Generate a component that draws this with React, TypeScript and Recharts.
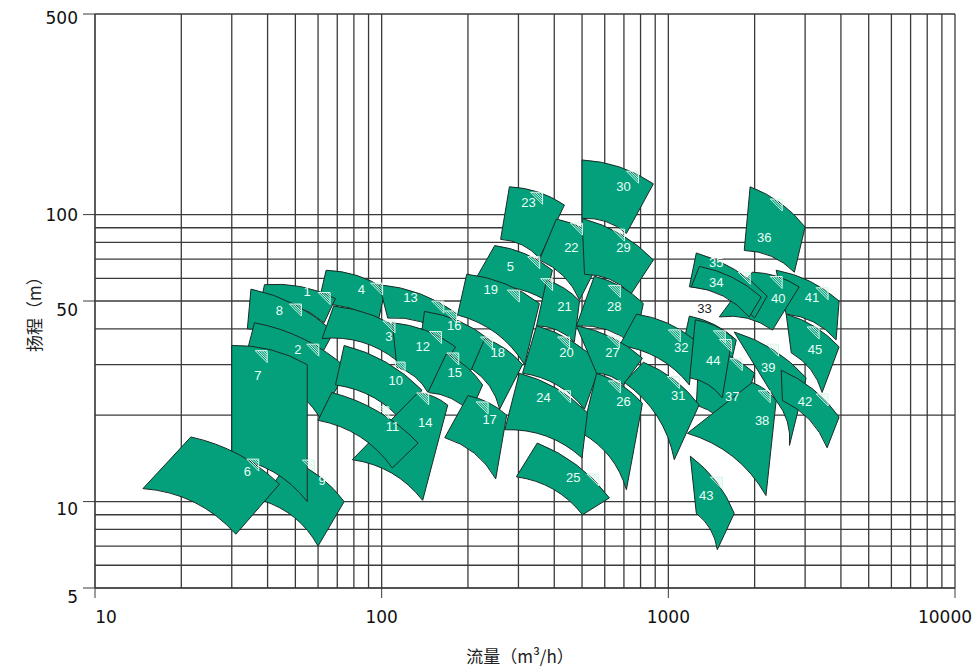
import React from "react";
import { ScatterChart, Scatter, XAxis, YAxis, CartesianGrid } from "recharts";

// pump operating fields, listed in drawing order (lower fields drawn last)
const pumpIds = [
  30, 23, 36, 22, 29, 5, 41, 40, 35, 34, 4, 19, 28, 21, 1, 13, 8, 16, 3, 33, 45, 32, 12, 2, 20,
  27, 39, 18, 10, 9, 7, 15, 37, 44, 31, 42, 26, 24, 38, 14, 11, 17, 6, 25, 43,
];

// corners of each field: top-left, top-right, bottom-right, bottom-left (flow m3/h, head m)
const cornerFlow = [
  [500, 887, 714, 500], [279, 434, 355, 260], [1929, 3000, 2752, 1840], [407, 613, 490, 355],
  [500, 887, 742, 510], [248, 394, 372, 203], [2378, 3943, 3848, 2577], [1962, 2860, 2308, 1506],
  [1252, 2212, 2000, 1184], [1283, 2108, 1915, 1203], [64, 103, 97, 60], [198, 355, 315, 184],
  [552, 818, 761, 478], [376, 490, 470, 347], [39, 69, 63, 38], [98, 184, 172, 105],
  [35, 68, 60, 34], [141, 238, 203, 136], [68, 124, 113, 62], [1184, 1726, 1605, 1118],
  [2577, 3943, 3439, 2684], [774, 1232, 1184, 676], [109, 181, 145, 113], [36, 76, 61, 33],
  [347, 580, 510, 310], [478, 812, 697, 562], [1698, 3024, 2646, 2378], [229, 310, 258, 206],
  [74, 138, 121, 69], [48, 74, 60, 38.2], [30, 55, 55, 30], [168, 225, 204, 145],
  [1283, 2000, 1698, 1252], [1242, 1671, 1542, 1188], [818, 1280, 1049, 703], [2476, 3943, 3580, 2500],
  [562, 812, 714, 500], [302, 522, 500, 269], [1962, 2378, 2191, 1165], [134, 170, 139, 79],
  [67, 134, 109, 60], [200, 273, 250, 166], [21.6, 44, 31, 14.7], [349, 623, 502, 295],
  [1193, 1698, 1482, 1252],
];
const cornerHead = [
  [155, 128, 86, 97], [125, 108, 70.6, 82], [125, 90.5, 63, 75], [96.5, 78, 50.4, 69.5],
  [97, 69.5, 53, 62], [78, 64, 50.4, 55], [64, 50, 36.6, 45], [63, 56, 39.6, 44],
  [73.5, 52, 43.6, 56], [66, 51.6, 44, 56], [64, 55, 42, 48.4], [62, 49, 30, 44.7],
  [61, 49, 35, 41], [59, 50, 36, 41], [57, 51, 42, 50], [57, 45, 37.3, 43.6],
  [55, 39, 31, 40], [46, 36.6, 28.3, 35], [48, 38, 31, 37], [44.3, 36.6, 26.5, 34],
  [45, 34.6, 24, 33], [45, 36.6, 25.5, 35], [42, 34.6, 24, 29.4], [42, 29, 19.6, 30],
  [41, 30, 21, 28], [41, 31.6, 25.5, 28], [39, 27, 15.7, 22.5], [37, 30, 21, 29],
  [35, 24.5, 18.5, 25.5], [14, 10, 7, 10.1], [35, 30, 10, 14.2], [32.7, 25.5, 20.4, 24],
  [35, 28, 16.9, 21.7], [43, 37.5, 23, 27], [30.6, 21.7, 14, 26], [28.7, 19.7, 15.4, 22.5],
  [28, 22, 11, 17.3], [28, 20.4, 14.2, 17.8], [26, 22.5, 10.5, 17.3], [24, 21.7, 10.1, 14],
  [24, 16, 13.1, 19.2], [23.4, 20, 12, 16.7], [16.8, 11.5, 7.7, 11.1], [16, 10.3, 9, 12.2],
  [14.4, 9.1, 6.8, 9.1],
];

// where each field number is written
const labelFlow = [
  697, 325, 2160, 459, 697, 281, 3171, 2418, 1470, 1470, 85, 240, 648, 434, 55, 126, 44, 179, 106,
  1336, 3250, 1110, 139, 51, 441, 638, 2230, 254, 112, 62, 37, 180, 1671, 1435, 1083, 3000, 697, 367,
  2124, 142, 109, 238, 34, 466, 1357,
];
const labelHead = [
  125, 110, 83, 76.5, 77, 66, 51.6, 51, 68, 58, 55, 55, 48, 48, 54, 51.6, 46.5, 41, 37.5, 47, 34,
  34.3, 34.6, 34, 33, 33.2, 29.4, 33.2, 26.5, 11.8, 27.6, 28.1, 23.2, 31, 23.4, 22.3, 22.3, 23,
  19.1, 18.9, 18.3, 19.3, 12.7, 12.1, 10.5,
];

// best efficiency marks (null = hidden)
const bepFlow = [
  750, 347, 2378, 478, 670, 339, 3439, 2378, null, 1840, 96, 288, 648, 376, 63, 157, 50, 174, 106,
  1580, 3198, 1049, 154, 57.5, 431, 643, 2308, 232, 115, 55.5, 38, 177, 1725, 1506, 1041, 3439, 648,
  434, 2160, 139, 101, 224, 35.5, 545, 1471,
];
const bepHead = [
  135, 114, 108, 89, 84.8, 68, 53, 58, null, 60, 55, 52, 54, 57, 51, 47.6, 46.5, 44, 40.6, 35,
  38.7, 37.8, 37.3, 33.7, 35.7, 36, 33.7, 35.7, 29.2, 13.3, 32, 31.4, 30, 37.5, 26, 22.6, 25.1,
  23.2, 23.2, 22.8, 20.4, 21.2, 13.4, 11.9, 11.6,
];

const flowTicks = [10, 100, 1000, 10000];
const headTicks = [5, 10, 50, 100, 500];
const flowGrid = [
  10, 20, 30, 40, 50, 60, 70, 80, 90, 100, 200, 300, 400, 500, 600, 700, 800, 900, 1000, 2000,
  3000, 4000, 5000, 6000, 7000, 8000, 9000, 10000,
];
const headGrid = [5, 6, 7, 8, 9, 10, 20, 30, 40, 50, 60, 70, 80, 90, 100, 500];

const FILL = "#03a07b";
const EDGE = "#1c2a25";
const LINE = "#3a3a3a";

const fields = pumpIds.map((id, i) => ({
  id,
  pts: cornerFlow[i].map((q, j) => ({ q, h: cornerHead[i][j] })),
}));
const labels = pumpIds.map((id, i) => ({ id, q: labelFlow[i], h: labelHead[i] }));
const beps = pumpIds
  .map((id, i) => ({ id, q: bepFlow[i], h: bepHead[i] }))
  .filter((b) => b.q != null && b.h != null);

type P = { x: number; y: number };

// control point pushing an edge upward, k = share of chord length
function bulge(a: P, b: P, k: number): P {
  let nx = b.y - a.y;
  let ny = -(b.x - a.x);
  if (ny > 0) {
    nx = -nx;
    ny = -ny;
  }
  return { x: (a.x + b.x) / 2 + nx * k, y: (a.y + b.y) / 2 + ny * k };
}

function Patch(props: any) {
  const pts: P[] = props.points;
  if (!pts || pts.length < 4) return null;
  const [tl, tr, br, bl] = pts;
  const c1 = bulge(tl, tr, 0.14);
  const c2 = bulge(br, bl, 0.2);
  const d =
    `M${tl.x},${tl.y} Q${c1.x},${c1.y} ${tr.x},${tr.y} ` +
    `L${br.x},${br.y} Q${c2.x},${c2.y} ${bl.x},${bl.y} Z`;
  return <path d={d} fill={FILL} stroke={EDGE} strokeWidth={1} strokeLinejoin="round" />;
}

function Hatch({ cx, cy }: any) {
  const s = 12;
  const x0 = cx - s / 2;
  const y0 = cy - s / 2;
  const x1 = cx + s / 2;
  const y1 = cy + s / 2;
  const lines = [];
  for (let i = 1; i < 5; i++) {
    const t = (i * s) / 5;
    lines.push(<line key={i} x1={x0 + t} y1={y0} x2={x1} y2={y1 - t} />);
  }
  return (
    <g stroke="#d9f5ea" strokeWidth={1}>
      <path d={`M${x0},${y0} H${x1} V${y1} Z`} fill="none" />
      {lines}
    </g>
  );
}

function FieldLabel({ cx, cy, payload }: any) {
  const dark = payload.id === 33;
  return (
    <text
      x={cx}
      y={cy}
      textAnchor="middle"
      dominantBaseline="central"
      fontFamily="Liberation Sans, Arial, sans-serif"
      fontSize={13}
      fill={dark ? "#222" : "#eafff7"}
    >
      {payload.id}
    </text>
  );
}

const xShift: Record<number, number> = { 10: 11, 10000: -10 };
const yDy: Record<number, number> = { 500: 4, 100: 0, 50: 9, 10: 7, 5: 9 };

function XTick({ x, y, payload }: any) {
  return (
    <text x={x + (xShift[payload.value] ?? 0)} y={y + 23} textAnchor="middle"
      fontFamily="DejaVu Sans, sans-serif" fontSize={17} fill="#111">
      {payload.value}
    </text>
  );
}

function YTick({ x, y, payload }: any) {
  return (
    <text x={x - 3} y={y + (yDy[payload.value] ?? 0)} textAnchor="end" dominantBaseline="central"
      fontFamily="DejaVu Sans, sans-serif" fontSize={17} fill="#111">
      {payload.value}
    </text>
  );
}

export default function App() {
  return (
    <div style={{ position: "absolute", left: 0, top: 0, width: 977, height: 672, background: "#fff" }}>
      <ScatterChart width={977} height={672} margin={{ top: 14, right: 22, bottom: 0, left: 0 }}>
        <CartesianGrid
          stroke={LINE}
          strokeWidth={1.3}
          horizontalValues={headGrid}
          verticalValues={flowGrid}
        />
        <XAxis
          type="number"
          dataKey="q"
          scale="log"
          domain={[10, 10000]}
          allowDataOverflow
          ticks={flowTicks}
          tick={<XTick />}
          tickSize={10}
          height={84}
          stroke={LINE}
          interval={0}
        />
        <YAxis
          type="number"
          dataKey="h"
          scale="log"
          domain={[5, 500]}
          allowDataOverflow
          ticks={headTicks}
          tick={<YTick />}
          tickSize={12}
          width={95}
          stroke={LINE}
          interval={0}
        />
        {fields.map((f) => (
          <Scatter
            key={f.id}
            data={f.pts}
            isAnimationActive={false}
            line={(p: any) => <Patch points={p.points} />}
            shape={() => <g />}
          />
        ))}
        <Scatter data={beps} isAnimationActive={false} shape={<Hatch />} />
        <Scatter data={labels} isAnimationActive={false} shape={<FieldLabel />} />
      </ScatterChart>
      <svg width={977} height={672} style={{ position: "absolute", left: 0, top: 0, pointerEvents: "none" }}>
        <text x={520} y={655} textAnchor="middle" dominantBaseline="central"
          fontFamily="Noto Sans CJK SC, sans-serif" fontSize={17} fill="#222">
          流量（m³/h）
        </text>
        <text x={33} y={310} textAnchor="middle" dominantBaseline="central"
          transform="rotate(-90 33 310)" fontFamily="Noto Sans CJK SC, sans-serif" fontSize={17} fill="#222">
          扬程（m）
        </text>
      </svg>
    </div>
  );
}
